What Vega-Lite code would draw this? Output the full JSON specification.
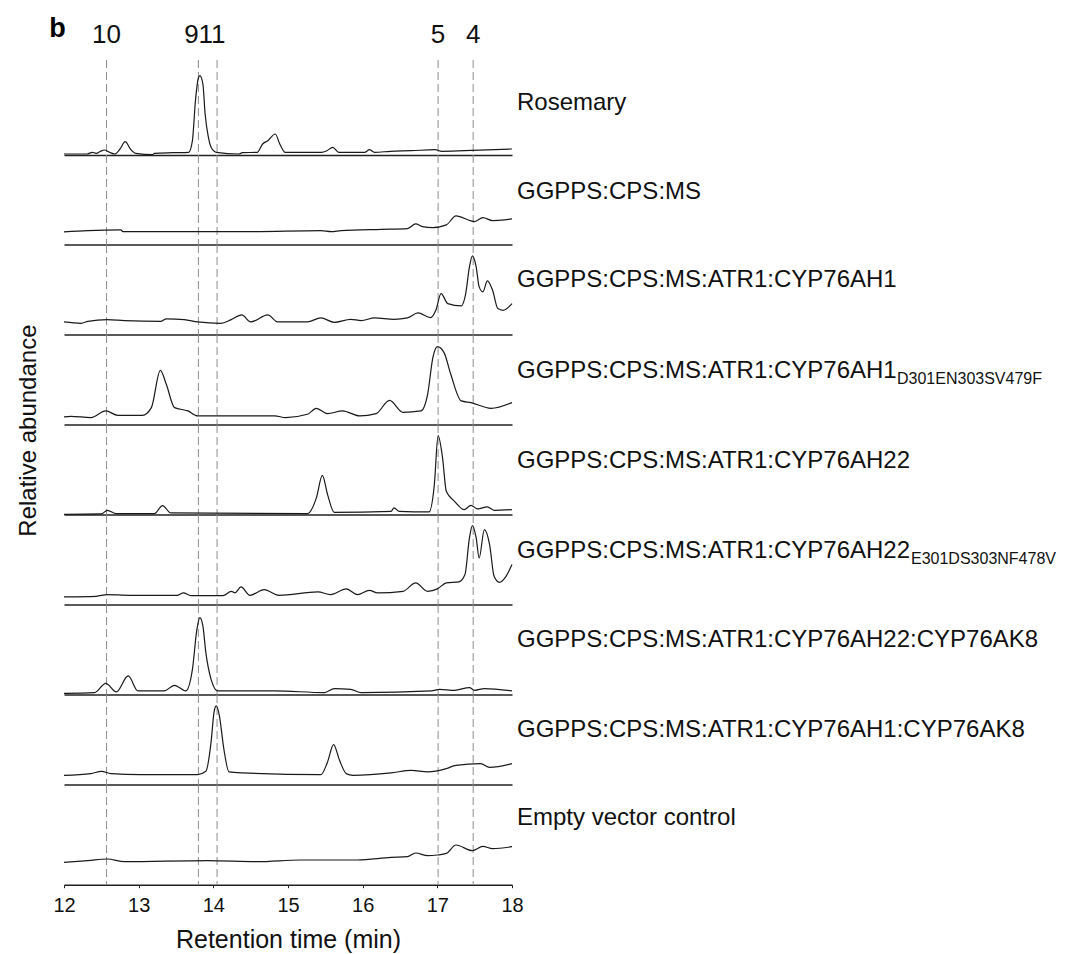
{
  "$schema": "https://vega.github.io/schema/vega-lite/v6.json",
  "padding": {"left": 16, "top": 14, "right": 0, "bottom": 0},
  "config": {"view": {"stroke": null}, "font": "Liberation Sans"},
  "spacing": 0,
  "bounds": "flush",
  "datasets": {
    "markers": [
      {"compound": "10", "time": 12.57},
      {"compound": "9", "time": 13.8},
      {"compound": "11", "time": 14.05},
      {"compound": "5", "time": 17.01},
      {"compound": "4", "time": 17.48}
    ],
    "rosemary": [
      {"time": 12.0, "abundance": 1}, {"time": 12.31, "abundance": 1}, {"time": 12.38, "abundance": 2.7}, {"time": 12.43, "abundance": 1.7},
      {"time": 12.49, "abundance": 3.7}, {"time": 12.54, "abundance": 5}, {"time": 12.61, "abundance": 2.7}, {"time": 12.68, "abundance": 1},
      {"time": 12.75, "abundance": 6}, {"time": 12.82, "abundance": 13.3}, {"time": 12.89, "abundance": 6}, {"time": 12.96, "abundance": 1.7},
      {"time": 13.19, "abundance": 0.5}, {"time": 13.21, "abundance": 1.7}, {"time": 13.46, "abundance": 2.3}, {"time": 13.67, "abundance": 2.7},
      {"time": 13.72, "abundance": 14.3}, {"time": 13.76, "abundance": 54}, {"time": 13.8, "abundance": 77}, {"time": 13.82, "abundance": 79.3},
      {"time": 13.86, "abundance": 71}, {"time": 13.89, "abundance": 41}, {"time": 13.93, "abundance": 19.3}, {"time": 13.97, "abundance": 7.7},
      {"time": 14.04, "abundance": 2.7}, {"time": 14.34, "abundance": 1}, {"time": 14.39, "abundance": 2.3}, {"time": 14.59, "abundance": 2.7},
      {"time": 14.66, "abundance": 11}, {"time": 14.73, "abundance": 14.3}, {"time": 14.83, "abundance": 21}, {"time": 14.89, "abundance": 11},
      {"time": 14.96, "abundance": 2.7}, {"time": 15.45, "abundance": 2.7}, {"time": 15.52, "abundance": 4.3}, {"time": 15.6, "abundance": 7.7},
      {"time": 15.68, "abundance": 2.7}, {"time": 16.03, "abundance": 2.7}, {"time": 16.09, "abundance": 5.3}, {"time": 16.16, "abundance": 2.7},
      {"time": 16.37, "abundance": 3.7}, {"time": 16.65, "abundance": 4.3}, {"time": 16.97, "abundance": 5.3}, {"time": 17.06, "abundance": 3.7},
      {"time": 17.36, "abundance": 4.3}, {"time": 18.0, "abundance": 6}
    ],
    "cps_ms": [
      {"time": 12.0, "abundance": 12.7}, {"time": 12.32, "abundance": 14}, {"time": 12.76, "abundance": 14.7}, {"time": 12.79, "abundance": 13},
      {"time": 14.5, "abundance": 13}, {"time": 15.44, "abundance": 14}, {"time": 15.58, "abundance": 13}, {"time": 15.71, "abundance": 14},
      {"time": 16.25, "abundance": 15.3}, {"time": 16.6, "abundance": 16}, {"time": 16.71, "abundance": 20.7}, {"time": 16.8, "abundance": 18},
      {"time": 16.94, "abundance": 17}, {"time": 17.12, "abundance": 19.7}, {"time": 17.25, "abundance": 28.7}, {"time": 17.45, "abundance": 23.7},
      {"time": 17.5, "abundance": 23}, {"time": 17.61, "abundance": 27}, {"time": 17.74, "abundance": 24}, {"time": 17.9, "abundance": 24.7},
      {"time": 18.0, "abundance": 25.7}
    ],
    "ah1": [
      {"time": 12.0, "abundance": 12.7}, {"time": 12.23, "abundance": 11.3}, {"time": 12.32, "abundance": 13.3}, {"time": 12.58, "abundance": 15},
      {"time": 12.81, "abundance": 14}, {"time": 13.3, "abundance": 13.3}, {"time": 13.37, "abundance": 15.7}, {"time": 13.61, "abundance": 15},
      {"time": 13.79, "abundance": 12.7}, {"time": 14.1, "abundance": 11.3}, {"time": 14.24, "abundance": 15}, {"time": 14.38, "abundance": 19.7},
      {"time": 14.5, "abundance": 12.7}, {"time": 14.73, "abundance": 19.7}, {"time": 14.86, "abundance": 12.7}, {"time": 15.26, "abundance": 12.7},
      {"time": 15.44, "abundance": 16.7}, {"time": 15.62, "abundance": 12.3}, {"time": 15.84, "abundance": 15.3}, {"time": 15.98, "abundance": 14},
      {"time": 16.16, "abundance": 16.7}, {"time": 16.42, "abundance": 15.3}, {"time": 16.6, "abundance": 16.7}, {"time": 16.74, "abundance": 21.7},
      {"time": 16.91, "abundance": 17}, {"time": 16.98, "abundance": 24.3}, {"time": 17.05, "abundance": 41}, {"time": 17.14, "abundance": 31},
      {"time": 17.32, "abundance": 28.7}, {"time": 17.38, "abundance": 41}, {"time": 17.43, "abundance": 67.7}, {"time": 17.47, "abundance": 78.7},
      {"time": 17.52, "abundance": 67.7}, {"time": 17.56, "abundance": 47.7}, {"time": 17.61, "abundance": 42.7}, {"time": 17.67, "abundance": 53.7},
      {"time": 17.74, "abundance": 44.3}, {"time": 17.81, "abundance": 26}, {"time": 17.88, "abundance": 24.3}, {"time": 18.0, "abundance": 31}
    ],
    "ah1_mut": [
      {"time": 12.0, "abundance": 7.7}, {"time": 12.09, "abundance": 8.3}, {"time": 12.36, "abundance": 7}, {"time": 12.56, "abundance": 13.7},
      {"time": 12.72, "abundance": 9.3}, {"time": 13.05, "abundance": 9.3}, {"time": 13.17, "abundance": 17}, {"time": 13.29, "abundance": 54.3},
      {"time": 13.37, "abundance": 40.3}, {"time": 13.48, "abundance": 17}, {"time": 13.66, "abundance": 13.7}, {"time": 13.79, "abundance": 8.7},
      {"time": 14.82, "abundance": 8.7}, {"time": 14.97, "abundance": 7}, {"time": 15.26, "abundance": 10.3}, {"time": 15.38, "abundance": 16.3},
      {"time": 15.53, "abundance": 11}, {"time": 15.73, "abundance": 13.7}, {"time": 15.96, "abundance": 8.7}, {"time": 16.18, "abundance": 11},
      {"time": 16.36, "abundance": 24.3}, {"time": 16.54, "abundance": 12.3}, {"time": 16.78, "abundance": 13.7}, {"time": 16.87, "abundance": 30.3},
      {"time": 16.94, "abundance": 67}, {"time": 17.0, "abundance": 78}, {"time": 17.09, "abundance": 72}, {"time": 17.18, "abundance": 50.3},
      {"time": 17.32, "abundance": 23.7}, {"time": 17.45, "abundance": 22}, {"time": 17.72, "abundance": 16.3}, {"time": 18.0, "abundance": 22}
    ],
    "ah22": [
      {"time": 12.0, "abundance": 0.3}, {"time": 12.5, "abundance": 0.7}, {"time": 12.58, "abundance": 4.3}, {"time": 12.7, "abundance": 1},
      {"time": 13.21, "abundance": 1}, {"time": 13.32, "abundance": 9}, {"time": 13.43, "abundance": 1.7}, {"time": 15.26, "abundance": 1},
      {"time": 15.38, "abundance": 16.7}, {"time": 15.46, "abundance": 39.3}, {"time": 15.53, "abundance": 20}, {"time": 15.62, "abundance": 2.3},
      {"time": 16.38, "abundance": 3.3}, {"time": 16.42, "abundance": 6.7}, {"time": 16.49, "abundance": 3.3}, {"time": 16.89, "abundance": 2.7},
      {"time": 16.96, "abundance": 30}, {"time": 17.01, "abundance": 79}, {"time": 17.07, "abundance": 56.7}, {"time": 17.12, "abundance": 23.3},
      {"time": 17.23, "abundance": 13.3}, {"time": 17.36, "abundance": 5}, {"time": 17.45, "abundance": 9.3}, {"time": 17.54, "abundance": 5.7},
      {"time": 17.67, "abundance": 7.7}, {"time": 17.76, "abundance": 4.3}, {"time": 18.0, "abundance": 5}
    ],
    "ah22_mut": [
      {"time": 12.0, "abundance": 7.7}, {"time": 12.43, "abundance": 8.3}, {"time": 12.58, "abundance": 10}, {"time": 12.88, "abundance": 9.3},
      {"time": 13.52, "abundance": 9.3}, {"time": 13.6, "abundance": 11.7}, {"time": 13.7, "abundance": 9}, {"time": 14.13, "abundance": 9},
      {"time": 14.24, "abundance": 13.3}, {"time": 14.29, "abundance": 11.7}, {"time": 14.37, "abundance": 17.7}, {"time": 14.49, "abundance": 9.3},
      {"time": 14.68, "abundance": 15}, {"time": 14.88, "abundance": 9.3}, {"time": 15.4, "abundance": 12.7}, {"time": 15.57, "abundance": 10},
      {"time": 15.78, "abundance": 15.7}, {"time": 15.93, "abundance": 10}, {"time": 16.09, "abundance": 14.3}, {"time": 16.2, "abundance": 11.7},
      {"time": 16.54, "abundance": 13.3}, {"time": 16.71, "abundance": 21.7}, {"time": 16.87, "abundance": 13.3}, {"time": 17.0, "abundance": 15.7},
      {"time": 17.12, "abundance": 21.7}, {"time": 17.29, "abundance": 22.7}, {"time": 17.37, "abundance": 30}, {"time": 17.43, "abundance": 66.7},
      {"time": 17.47, "abundance": 79}, {"time": 17.52, "abundance": 66.7}, {"time": 17.56, "abundance": 46.7}, {"time": 17.63, "abundance": 75},
      {"time": 17.7, "abundance": 60}, {"time": 17.76, "abundance": 28.3}, {"time": 17.83, "abundance": 22.3}, {"time": 17.92, "abundance": 28.3},
      {"time": 18.0, "abundance": 40}
    ],
    "ah22_ak8": [
      {"time": 12.0, "abundance": 1.3}, {"time": 12.41, "abundance": 2}, {"time": 12.56, "abundance": 11.3}, {"time": 12.7, "abundance": 2.7},
      {"time": 12.86, "abundance": 18.7}, {"time": 12.99, "abundance": 3.7}, {"time": 13.34, "abundance": 3.7}, {"time": 13.48, "abundance": 9.3},
      {"time": 13.63, "abundance": 3.7}, {"time": 13.72, "abundance": 25.3}, {"time": 13.78, "abundance": 65.3}, {"time": 13.82, "abundance": 77},
      {"time": 13.86, "abundance": 68.7}, {"time": 13.9, "abundance": 42}, {"time": 13.97, "abundance": 15.3}, {"time": 14.06, "abundance": 3.7},
      {"time": 14.82, "abundance": 3.7}, {"time": 15.49, "abundance": 2}, {"time": 15.62, "abundance": 6}, {"time": 15.84, "abundance": 5.3},
      {"time": 15.98, "abundance": 2}, {"time": 16.92, "abundance": 3.7}, {"time": 17.03, "abundance": 5.3}, {"time": 17.23, "abundance": 4.3},
      {"time": 17.43, "abundance": 7}, {"time": 17.5, "abundance": 4.3}, {"time": 17.63, "abundance": 6}, {"time": 18.0, "abundance": 3.7}
    ],
    "ah1_ak8": [
      {"time": 12.0, "abundance": 9.3}, {"time": 12.36, "abundance": 11}, {"time": 12.5, "abundance": 13.3}, {"time": 12.63, "abundance": 11},
      {"time": 13.03, "abundance": 10}, {"time": 13.79, "abundance": 10}, {"time": 13.9, "abundance": 13.3}, {"time": 13.97, "abundance": 42.7},
      {"time": 14.01, "abundance": 72.7}, {"time": 14.04, "abundance": 78.7}, {"time": 14.08, "abundance": 69.3}, {"time": 14.14, "abundance": 36},
      {"time": 14.21, "abundance": 12.7}, {"time": 14.39, "abundance": 11.7}, {"time": 15.44, "abundance": 10}, {"time": 15.53, "abundance": 22.7},
      {"time": 15.61, "abundance": 40}, {"time": 15.69, "abundance": 24.3}, {"time": 15.78, "abundance": 11}, {"time": 15.87, "abundance": 9.3},
      {"time": 16.38, "abundance": 11.7}, {"time": 16.65, "abundance": 14.3}, {"time": 16.87, "abundance": 12.7}, {"time": 17.12, "abundance": 16},
      {"time": 17.25, "abundance": 19.3}, {"time": 17.58, "abundance": 21}, {"time": 17.7, "abundance": 17.3}, {"time": 18.0, "abundance": 21}
    ],
    "empty": [
      {"time": 12.0, "abundance": 22.3}, {"time": 12.32, "abundance": 24}, {"time": 12.58, "abundance": 25.7}, {"time": 12.81, "abundance": 23},
      {"time": 13.92, "abundance": 24}, {"time": 14.59, "abundance": 23}, {"time": 15.17, "abundance": 24.7}, {"time": 15.93, "abundance": 24.7},
      {"time": 16.38, "abundance": 27.3}, {"time": 16.6, "abundance": 28}, {"time": 16.71, "abundance": 31.7}, {"time": 16.87, "abundance": 29},
      {"time": 17.0, "abundance": 29.7}, {"time": 17.12, "abundance": 31.3}, {"time": 17.25, "abundance": 39.7}, {"time": 17.47, "abundance": 34},
      {"time": 17.61, "abundance": 38.3}, {"time": 17.74, "abundance": 36}, {"time": 18.0, "abundance": 38}
    ]
  },
  "vconcat": [
    {
      "width": 448, "height": 95,
      "layer": [
        {"data": {"name": "markers"}, "mark": {"type": "rule", "color": "#8c8c8c", "strokeWidth": 1, "strokeDash": [8, 4]},
         "encoding": {"x": {"field": "time", "type": "quantitative", "scale": {"domain": [12, 18], "nice": false, "zero": false}, "axis": {"domain": true, "domainColor": "#222", "domainWidth": 1.5, "ticks": false, "labels": false, "grid": false, "title": null}}}},
        {"data": {"name": "rosemary"}, "mark": {"type": "line", "color": "#1a1a1a", "strokeWidth": 1.2, "interpolate": "monotone"},
         "encoding": {
           "x": {"field": "time", "type": "quantitative", "scale": {"domain": [12, 18], "nice": false, "zero": false}, "axis": {"domain": true, "domainColor": "#222", "domainWidth": 1.5, "ticks": false, "labels": false, "grid": false, "title": null}},
           "y": {"field": "abundance", "type": "quantitative", "scale": {"domain": [0, 95], "nice": false, "zero": false}, "axis": null}}},
        {"data": {"values": [{"label": "Rosemary"}]}, "mark": {"type": "text", "align": "left", "baseline": "alphabetic", "dx": 5, "fontSize": 24, "color": "#111"},
         "encoding": {"x": {"datum": 18, "type": "quantitative", "axis": {"domain": true, "domainColor": "#222", "domainWidth": 1.5, "ticks": false, "labels": false, "grid": false, "title": null}}, "y": {"datum": 45, "type": "quantitative", "axis": null}, "text": {"field": "label"}}},
        {"data": {"name": "markers"}, "transform": [{"filter": "datum.compound != '9' && datum.compound != '11'"}],
         "mark": {"type": "text", "align": "center", "baseline": "alphabetic", "fontSize": 26, "color": "#111"},
         "encoding": {"x": {"field": "time", "type": "quantitative", "axis": {"domain": true, "domainColor": "#222", "domainWidth": 1.5, "ticks": false, "labels": false, "grid": false, "title": null}}, "y": {"datum": 112, "type": "quantitative", "axis": null}, "text": {"field": "compound"}}},
        {"data": {"name": "markers"}, "transform": [{"filter": "datum.compound == '9'"}],
         "mark": {"type": "text", "align": "center", "baseline": "alphabetic", "fontSize": 26, "dx": -7, "color": "#111"},
         "encoding": {"x": {"field": "time", "type": "quantitative", "axis": {"domain": true, "domainColor": "#222", "domainWidth": 1.5, "ticks": false, "labels": false, "grid": false, "title": null}}, "y": {"datum": 112, "type": "quantitative", "axis": null}, "text": {"field": "compound"}}},
        {"data": {"name": "markers"}, "transform": [{"filter": "datum.compound == '11'"}],
         "mark": {"type": "text", "align": "center", "baseline": "alphabetic", "fontSize": 26, "dx": -5, "color": "#111"},
         "encoding": {"x": {"field": "time", "type": "quantitative", "axis": {"domain": true, "domainColor": "#222", "domainWidth": 1.5, "ticks": false, "labels": false, "grid": false, "title": null}}, "y": {"datum": 112, "type": "quantitative", "axis": null}, "text": {"field": "compound"}}},
        {"data": {"values": [{"label": "b"}]}, "mark": {"type": "text", "align": "center", "baseline": "alphabetic", "dx": -6.5, "fontSize": 27, "fontWeight": "bold", "color": "#000"},
         "encoding": {"x": {"datum": 12, "type": "quantitative", "axis": {"domain": true, "domainColor": "#222", "domainWidth": 1.5, "ticks": false, "labels": false, "grid": false, "title": null}}, "y": {"datum": 118.3, "type": "quantitative", "axis": null}, "text": {"field": "label"}}}
      ]
    },
    {
      "width": 448, "height": 89.6,
      "layer": [
        {"data": {"name": "markers"}, "mark": {"type": "rule", "color": "#8c8c8c", "strokeWidth": 1, "strokeDash": [8, 4]},
         "encoding": {"x": {"field": "time", "type": "quantitative", "scale": {"domain": [12, 18], "nice": false, "zero": false}, "axis": {"domain": true, "domainColor": "#222", "domainWidth": 1.5, "ticks": false, "labels": false, "grid": false, "title": null}}}},
        {"data": {"name": "cps_ms"}, "mark": {"type": "line", "color": "#1a1a1a", "strokeWidth": 1.2, "interpolate": "monotone"},
         "encoding": {
           "x": {"field": "time", "type": "quantitative", "scale": {"domain": [12, 18], "nice": false, "zero": false}, "axis": {"domain": true, "domainColor": "#222", "domainWidth": 1.5, "ticks": false, "labels": false, "grid": false, "title": null}},
           "y": {"field": "abundance", "type": "quantitative", "scale": {"domain": [0, 89.6], "nice": false, "zero": false}, "axis": null}}},
        {"data": {"values": [{"label": "GGPPS:CPS:MS"}]}, "mark": {"type": "text", "align": "left", "baseline": "alphabetic", "dx": 5, "fontSize": 24, "color": "#111"},
         "encoding": {"x": {"datum": 18, "type": "quantitative", "axis": {"domain": true, "domainColor": "#222", "domainWidth": 1.5, "ticks": false, "labels": false, "grid": false, "title": null}}, "y": {"datum": 45.5, "type": "quantitative", "axis": null}, "text": {"field": "label"}}}
      ]
    },
    {
      "width": 448, "height": 89.6,
      "layer": [
        {"data": {"name": "markers"}, "mark": {"type": "rule", "color": "#8c8c8c", "strokeWidth": 1, "strokeDash": [8, 4]},
         "encoding": {"x": {"field": "time", "type": "quantitative", "scale": {"domain": [12, 18], "nice": false, "zero": false}, "axis": {"domain": true, "domainColor": "#222", "domainWidth": 1.5, "ticks": false, "labels": false, "grid": false, "title": null}}}},
        {"data": {"name": "ah1"}, "mark": {"type": "line", "color": "#1a1a1a", "strokeWidth": 1.2, "interpolate": "monotone"},
         "encoding": {
           "x": {"field": "time", "type": "quantitative", "scale": {"domain": [12, 18], "nice": false, "zero": false}, "axis": {"domain": true, "domainColor": "#222", "domainWidth": 1.5, "ticks": false, "labels": false, "grid": false, "title": null}},
           "y": {"field": "abundance", "type": "quantitative", "scale": {"domain": [0, 89.6], "nice": false, "zero": false}, "axis": null}}},
        {"data": {"values": [{"label": "GGPPS:CPS:MS:ATR1:CYP76AH1"}]}, "mark": {"type": "text", "align": "left", "baseline": "alphabetic", "dx": 5, "fontSize": 24, "color": "#111"},
         "encoding": {"x": {"datum": 18, "type": "quantitative", "axis": {"domain": true, "domainColor": "#222", "domainWidth": 1.5, "ticks": false, "labels": false, "grid": false, "title": null}}, "y": {"datum": 47.5, "type": "quantitative", "axis": null}, "text": {"field": "label"}}}
      ]
    },
    {
      "width": 448, "height": 89.6,
      "layer": [
        {"data": {"name": "markers"}, "mark": {"type": "rule", "color": "#8c8c8c", "strokeWidth": 1, "strokeDash": [8, 4]},
         "encoding": {"x": {"field": "time", "type": "quantitative", "scale": {"domain": [12, 18], "nice": false, "zero": false}, "axis": {"domain": true, "domainColor": "#222", "domainWidth": 1.5, "ticks": false, "labels": false, "grid": false, "title": null}}}},
        {"data": {"name": "ah1_mut"}, "mark": {"type": "line", "color": "#1a1a1a", "strokeWidth": 1.2, "interpolate": "monotone"},
         "encoding": {
           "x": {"field": "time", "type": "quantitative", "scale": {"domain": [12, 18], "nice": false, "zero": false}, "axis": {"domain": true, "domainColor": "#222", "domainWidth": 1.5, "ticks": false, "labels": false, "grid": false, "title": null}},
           "y": {"field": "abundance", "type": "quantitative", "scale": {"domain": [0, 89.6], "nice": false, "zero": false}, "axis": null}}},
        {"data": {"values": [{"label": "GGPPS:CPS:MS:ATR1:CYP76AH1"}]}, "mark": {"type": "text", "align": "left", "baseline": "alphabetic", "dx": 5, "fontSize": 24, "color": "#111"},
         "encoding": {"x": {"datum": 18, "type": "quantitative", "axis": {"domain": true, "domainColor": "#222", "domainWidth": 1.5, "ticks": false, "labels": false, "grid": false, "title": null}}, "y": {"datum": 47, "type": "quantitative", "axis": null}, "text": {"field": "label"}}},
        {"data": {"values": [{"label": "D301EN303SV479F"}]}, "mark": {"type": "text", "align": "left", "baseline": "alphabetic", "dx": 385, "dy": 6, "fontSize": 16, "color": "#111"},
         "encoding": {"x": {"datum": 18, "type": "quantitative", "axis": {"domain": true, "domainColor": "#222", "domainWidth": 1.5, "ticks": false, "labels": false, "grid": false, "title": null}}, "y": {"datum": 47, "type": "quantitative", "axis": null}, "text": {"field": "label"}}}
      ]
    },
    {
      "width": 448, "height": 89.6,
      "layer": [
        {"data": {"name": "markers"}, "mark": {"type": "rule", "color": "#8c8c8c", "strokeWidth": 1, "strokeDash": [8, 4]},
         "encoding": {"x": {"field": "time", "type": "quantitative", "scale": {"domain": [12, 18], "nice": false, "zero": false}, "axis": {"domain": true, "domainColor": "#222", "domainWidth": 1.5, "ticks": false, "labels": false, "grid": false, "title": null}}}},
        {"data": {"name": "ah22"}, "mark": {"type": "line", "color": "#1a1a1a", "strokeWidth": 1.2, "interpolate": "monotone"},
         "encoding": {
           "x": {"field": "time", "type": "quantitative", "scale": {"domain": [12, 18], "nice": false, "zero": false}, "axis": {"domain": true, "domainColor": "#222", "domainWidth": 1.5, "ticks": false, "labels": false, "grid": false, "title": null}},
           "y": {"field": "abundance", "type": "quantitative", "scale": {"domain": [0, 89.6], "nice": false, "zero": false}, "axis": null}}},
        {"data": {"values": [{"label": "GGPPS:CPS:MS:ATR1:CYP76AH22"}]}, "mark": {"type": "text", "align": "left", "baseline": "alphabetic", "dx": 5, "fontSize": 24, "color": "#111"},
         "encoding": {"x": {"datum": 18, "type": "quantitative", "axis": {"domain": true, "domainColor": "#222", "domainWidth": 1.5, "ticks": false, "labels": false, "grid": false, "title": null}}, "y": {"datum": 46.6, "type": "quantitative", "axis": null}, "text": {"field": "label"}}},
        {"data": {"values": [{"label": "Relative abundance"}]}, "mark": {"type": "text", "align": "center", "baseline": "alphabetic", "angle": 270, "dy": -28, "fontSize": 24, "color": "#111"},
         "encoding": {"x": {"datum": 12, "type": "quantitative", "axis": {"domain": true, "domainColor": "#222", "domainWidth": 1.5, "ticks": false, "labels": false, "grid": false, "title": null}}, "y": {"datum": 84, "type": "quantitative", "axis": null}, "text": {"field": "label"}}}
      ]
    },
    {
      "width": 448, "height": 89.6,
      "layer": [
        {"data": {"name": "markers"}, "mark": {"type": "rule", "color": "#8c8c8c", "strokeWidth": 1, "strokeDash": [8, 4]},
         "encoding": {"x": {"field": "time", "type": "quantitative", "scale": {"domain": [12, 18], "nice": false, "zero": false}, "axis": {"domain": true, "domainColor": "#222", "domainWidth": 1.5, "ticks": false, "labels": false, "grid": false, "title": null}}}},
        {"data": {"name": "ah22_mut"}, "mark": {"type": "line", "color": "#1a1a1a", "strokeWidth": 1.2, "interpolate": "monotone"},
         "encoding": {
           "x": {"field": "time", "type": "quantitative", "scale": {"domain": [12, 18], "nice": false, "zero": false}, "axis": {"domain": true, "domainColor": "#222", "domainWidth": 1.5, "ticks": false, "labels": false, "grid": false, "title": null}},
           "y": {"field": "abundance", "type": "quantitative", "scale": {"domain": [0, 89.6], "nice": false, "zero": false}, "axis": null}}},
        {"data": {"values": [{"label": "GGPPS:CPS:MS:ATR1:CYP76AH22"}]}, "mark": {"type": "text", "align": "left", "baseline": "alphabetic", "dx": 5, "fontSize": 24, "color": "#111"},
         "encoding": {"x": {"datum": 18, "type": "quantitative", "axis": {"domain": true, "domainColor": "#222", "domainWidth": 1.5, "ticks": false, "labels": false, "grid": false, "title": null}}, "y": {"datum": 47, "type": "quantitative", "axis": null}, "text": {"field": "label"}}},
        {"data": {"values": [{"label": "E301DS303NF478V"}]}, "mark": {"type": "text", "align": "left", "baseline": "alphabetic", "dx": 399, "dy": 6, "fontSize": 16, "color": "#111"},
         "encoding": {"x": {"datum": 18, "type": "quantitative", "axis": {"domain": true, "domainColor": "#222", "domainWidth": 1.5, "ticks": false, "labels": false, "grid": false, "title": null}}, "y": {"datum": 47, "type": "quantitative", "axis": null}, "text": {"field": "label"}}}
      ]
    },
    {
      "width": 448, "height": 89.6,
      "layer": [
        {"data": {"name": "markers"}, "mark": {"type": "rule", "color": "#8c8c8c", "strokeWidth": 1, "strokeDash": [8, 4]},
         "encoding": {"x": {"field": "time", "type": "quantitative", "scale": {"domain": [12, 18], "nice": false, "zero": false}, "axis": {"domain": true, "domainColor": "#222", "domainWidth": 1.5, "ticks": false, "labels": false, "grid": false, "title": null}}}},
        {"data": {"name": "ah22_ak8"}, "mark": {"type": "line", "color": "#1a1a1a", "strokeWidth": 1.2, "interpolate": "monotone"},
         "encoding": {
           "x": {"field": "time", "type": "quantitative", "scale": {"domain": [12, 18], "nice": false, "zero": false}, "axis": {"domain": true, "domainColor": "#222", "domainWidth": 1.5, "ticks": false, "labels": false, "grid": false, "title": null}},
           "y": {"field": "abundance", "type": "quantitative", "scale": {"domain": [0, 89.6], "nice": false, "zero": false}, "axis": null}}},
        {"data": {"values": [{"label": "GGPPS:CPS:MS:ATR1:CYP76AH22:CYP76AK8"}]}, "mark": {"type": "text", "align": "left", "baseline": "alphabetic", "dx": 5, "fontSize": 24, "color": "#111"},
         "encoding": {"x": {"datum": 18, "type": "quantitative", "axis": {"domain": true, "domainColor": "#222", "domainWidth": 1.5, "ticks": false, "labels": false, "grid": false, "title": null}}, "y": {"datum": 48, "type": "quantitative", "axis": null}, "text": {"field": "label"}}}
      ]
    },
    {
      "width": 448, "height": 89.6,
      "layer": [
        {"data": {"name": "markers"}, "mark": {"type": "rule", "color": "#8c8c8c", "strokeWidth": 1, "strokeDash": [8, 4]},
         "encoding": {"x": {"field": "time", "type": "quantitative", "scale": {"domain": [12, 18], "nice": false, "zero": false}, "axis": {"domain": true, "domainColor": "#222", "domainWidth": 1.5, "ticks": false, "labels": false, "grid": false, "title": null}}}},
        {"data": {"name": "ah1_ak8"}, "mark": {"type": "line", "color": "#1a1a1a", "strokeWidth": 1.2, "interpolate": "monotone"},
         "encoding": {
           "x": {"field": "time", "type": "quantitative", "scale": {"domain": [12, 18], "nice": false, "zero": false}, "axis": {"domain": true, "domainColor": "#222", "domainWidth": 1.5, "ticks": false, "labels": false, "grid": false, "title": null}},
           "y": {"field": "abundance", "type": "quantitative", "scale": {"domain": [0, 89.6], "nice": false, "zero": false}, "axis": null}}},
        {"data": {"values": [{"label": "GGPPS:CPS:MS:ATR1:CYP76AH1:CYP76AK8"}]}, "mark": {"type": "text", "align": "left", "baseline": "alphabetic", "dx": 5, "fontSize": 24, "color": "#111"},
         "encoding": {"x": {"datum": 18, "type": "quantitative", "axis": {"domain": true, "domainColor": "#222", "domainWidth": 1.5, "ticks": false, "labels": false, "grid": false, "title": null}}, "y": {"datum": 47.5, "type": "quantitative", "axis": null}, "text": {"field": "label"}}}
      ]
    },
    {
      "width": 448, "height": 99.7,
      "layer": [
        {"data": {"name": "markers"}, "mark": {"type": "rule", "color": "#8c8c8c", "strokeWidth": 1, "strokeDash": [8, 4]},
         "encoding": {"x": {"field": "time", "type": "quantitative", "scale": {"domain": [12, 18], "nice": false, "zero": false},
                 "axis": {"domain": true, "domainColor": "#222", "domainWidth": 1.5, "ticks": true, "tickColor": "#222", "tickSize": 3, "tickWidth": 1,
                          "values": [12, 13, 14, 15, 16, 17, 18], "labels": true, "labelFontSize": 20, "labelColor": "#111", "labelPadding": 8,
                          "labelFlush": false, "labelOverlap": false, "grid": false,
                          "title": "Retention time (min)", "titleFontSize": 25, "titleFontWeight": "normal", "titleColor": "#111",
                          "titleBaseline": "alphabetic", "titleY": 62.7}}}},
        {"data": {"name": "empty"}, "mark": {"type": "line", "color": "#1a1a1a", "strokeWidth": 1.2, "interpolate": "monotone"},
         "encoding": {
           "x": {"field": "time", "type": "quantitative", "scale": {"domain": [12, 18], "nice": false, "zero": false},
                 "axis": {"domain": true, "domainColor": "#222", "domainWidth": 1.5, "ticks": true, "tickColor": "#222", "tickSize": 3, "tickWidth": 1,
                          "values": [12, 13, 14, 15, 16, 17, 18], "labels": true, "labelFontSize": 20, "labelColor": "#111", "labelPadding": 8,
                          "labelFlush": false, "labelOverlap": false, "grid": false,
                          "title": "Retention time (min)", "titleFontSize": 25, "titleFontWeight": "normal", "titleColor": "#111",
                          "titleBaseline": "alphabetic", "titleY": 62.7}},
           "y": {"field": "abundance", "type": "quantitative", "scale": {"domain": [0, 99.7], "nice": false, "zero": false}, "axis": null}}},
        {"data": {"values": [{"label": "Empty vector control"}]}, "mark": {"type": "text", "align": "left", "baseline": "alphabetic", "dx": 5, "fontSize": 24, "color": "#111"},
         "encoding": {"x": {"datum": 18, "type": "quantitative",
                 "axis": {"domain": true, "domainColor": "#222", "domainWidth": 1.5, "ticks": true, "tickColor": "#222", "tickSize": 3, "tickWidth": 1,
                          "values": [12, 13, 14, 15, 16, 17, 18], "labels": true, "labelFontSize": 20, "labelColor": "#111", "labelPadding": 8,
                          "labelFlush": false, "labelOverlap": false, "grid": false,
                          "title": "Retention time (min)", "titleFontSize": 25, "titleFontWeight": "normal", "titleColor": "#111",
                          "titleBaseline": "alphabetic", "titleY": 62.7}}, "y": {"datum": 59.4, "type": "quantitative", "axis": null}, "text": {"field": "label"}}}
      ]
    }
  ]
}
